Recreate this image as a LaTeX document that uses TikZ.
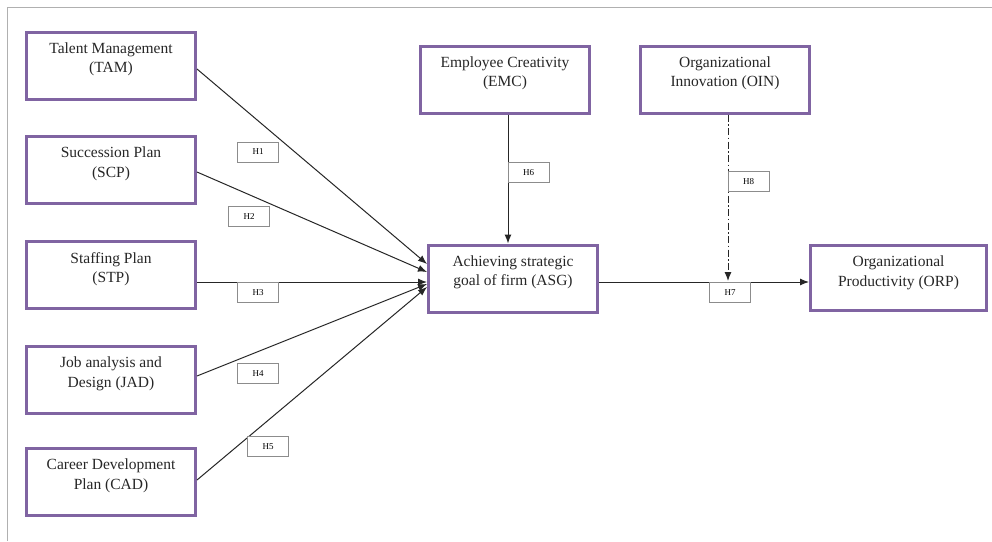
\documentclass[tikz,border=0pt]{standalone}
\usepackage{fontspec}
\setmainfont{Liberation Serif}
\usetikzlibrary{arrows.meta}
\definecolor{boxpurple}{HTML}{8064A2}
\definecolor{framegray}{HTML}{B0B0B0}
\definecolor{hgray}{HTML}{8C8C8C}
\tikzset{
  varbox/.style={draw=boxpurple, line width=3pt, minimum width=169pt, minimum height=67pt, inner sep=0pt},
  boxtext/.style={anchor=north, yshift=-12pt, align=center, inner sep=0pt, font=\fontsize{15.5}{19.5}\selectfont, text=black!85},
  hbox/.style={draw=hgray, line width=0.6pt, minimum width=41pt, minimum height=20pt, inner sep=0pt, font=\fontsize{9}{10}\selectfont, fill=white},
  arr/.style={draw=black!85, line width=1pt, -{Latex[length=9pt,width=7pt]}}
}
\begin{document}
\begin{tikzpicture}[x=1pt,y=-1pt]
\useasboundingbox (0,0) rectangle (992,541);
\fill[white] (0,0) rectangle (992,541);
\draw[framegray, line width=1pt] (7,541) -- (7,7) -- (992,7);

% left boxes
\node[varbox] (tam) at (111,65.5) {};
\node[boxtext] (tamt) at (tam.north) {Talent Management\\(TAM)};
\node[varbox] (scp) at (111,170) {};
\node[boxtext] (scpt) at (scp.north) {Succession Plan\\(SCP)};
\node[varbox] (stp) at (111,275) {};
\node[boxtext] (stpt) at (stp.north) {Staffing Plan\\(STP)};
\node[varbox] (jad) at (111,380) {};
\node[boxtext] (jadt) at (jad.north) {Job analysis and\\Design (JAD)};
\node[varbox] (cad) at (111,482) {};
\node[boxtext] (cadt) at (cad.north) {Career Development\\Plan (CAD)};

% top and middle boxes
\node[varbox] (emc) at (505,79.5) {};
\node[boxtext] (emct) at (emc.north) {Employee Creativity\\(EMC)};
\node[varbox] (oin) at (725,79.5) {};
\node[boxtext] (oint) at (oin.north) {Organizational\\Innovation (OIN)};
\node[varbox] (asg) at (513,278.5) {};
\node[boxtext] (asgt) at (asg.north) {Achieving strategic\\goal of firm (ASG)};
\node[varbox, minimum width=176pt, minimum height=65pt] (orp) at (898.5,278) {};
\node[boxtext] (orpt) at (orp.north) {Organizational\\Productivity (ORP)};

% connectors into ASG
\draw[arr] ([yshift=-3.5pt]tam.east) -- ([yshift=14.5pt]asg.west);
\draw[arr] ([yshift=-2pt]scp.east) -- ([yshift=6.5pt]asg.west);
\draw[arr] ([yshift=-7pt]stp.east) -- ([yshift=-3.5pt]asg.west);
\draw[arr] ([yshift=4pt]jad.east) -- ([yshift=-5.5pt]asg.west);
\draw[arr] ([yshift=2pt]cad.east) -- ([yshift=-8.5pt]asg.west);
\draw[arr] ([xshift=3pt]emc.south) -- ([xshift=-5pt]asg.north);
\draw[arr] ([yshift=-3.5pt]asg.east) -- ([yshift=-4pt]orp.west);
\coordinate (oinend) at (728,281);
\draw[arr, dash pattern=on 7pt off 2.5pt on 1.5pt off 2.5pt] ([xshift=3pt]oin.south) -- (oinend);

% hypothesis labels
\node[hbox] (h1) at (258,152) {H1};
\node[hbox] (h2) at (249,216.5) {H2};
\node[hbox] (h3) at (258,292.5) {H3};
\node[hbox] (h4) at (258,373.5) {H4};
\node[hbox] (h5) at (268,446.5) {H5};
\node[hbox] (h6) at (528.5,172.5) {H6};
\node[hbox] (h8) at (748.5,181.5) {H8};
\node[hbox] (h7) at (730,292.5) {H7};
\end{tikzpicture}
\end{document}
